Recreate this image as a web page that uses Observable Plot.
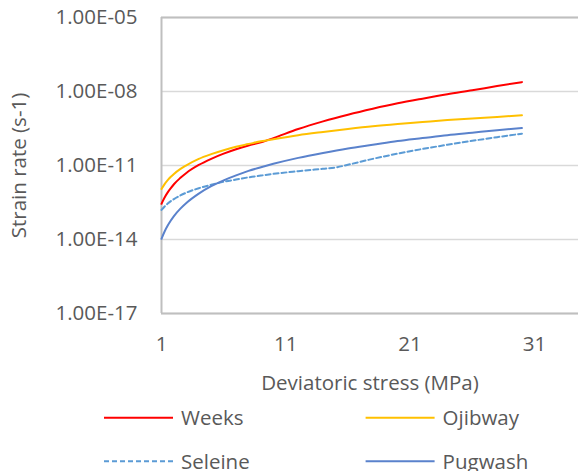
<!DOCTYPE html>
<html><head><meta charset="utf-8">
<script src="https://cdn.jsdelivr.net/npm/d3@7"></script>
<script src="https://cdn.jsdelivr.net/npm/@observablehq/plot@0.6"></script>
<style>
body{margin:0;background:#fff;}
#chart{width:579px;position:relative;}
</style></head><body><div id="chart"></div>
<script>
// Deviatoric stress (MPa)
const stress = [1,1.25,1.5,1.75,2,2.5,3,4,5,6,7,8,9,10,12,14,16,18,20,22,24,26,28,30];
const seleineStress = [1,1.25,1.5,1.75,2,2.5,3,4,5,6,7,8,9,10,12,14,15,16,18,20,22,24,26,28,30];
// Strain rate (s-1)
const weeks = [2.8e-13,5.05e-13,8.13e-13,1.21e-12,1.74e-12,3.09e-12,5.0e-12,1.05e-11,1.86e-11,3.02e-11,4.57e-11,6.46e-11,8.71e-11,1.29e-10,3.02e-10,6.17e-10,1.15e-9,2.0e-9,3.31e-9,5.13e-9,7.76e-9,1.12e-8,1.66e-8,2.40e-8];
const ojibway = [1.12e-12,1.76e-12,2.55e-12,3.48e-12,4.57e-12,7.14e-12,1.02e-11,1.86e-11,2.88e-11,4.17e-11,5.75e-11,7.41e-11,9.55e-11,1.17e-10,1.70e-10,2.29e-10,3.02e-10,3.89e-10,4.79e-10,5.75e-10,6.92e-10,8.13e-10,9.33e-10,1.10e-9];
const seleine = [1.58e-13,2.19e-13,2.86e-13,3.59e-13,4.37e-13,6.04e-13,7.94e-13,1.20e-12,1.66e-12,2.19e-12,2.69e-12,3.31e-12,3.89e-12,4.57e-12,5.89e-12,7.41e-12,8.32e-12,1.07e-11,1.86e-11,3.02e-11,4.68e-11,6.92e-11,1.0e-10,1.41e-10,1.95e-10];
const pugwash = [1.07e-14,2.11e-14,3.67e-14,5.87e-14,8.91e-14,1.74e-13,3.02e-13,7.24e-13,1.45e-12,2.51e-12,3.98e-12,6.03e-12,8.51e-12,1.17e-11,2.04e-11,3.24e-11,4.90e-11,6.92e-11,9.77e-11,1.29e-10,1.70e-10,2.14e-10,2.69e-10,3.31e-10];

const seriesNames = ["Weeks","Ojibway","Seleine","Pugwash"];
const seriesColors = ["#FF0000","#FFC000","#5B9BD5","#5A82CC"];
const seriesDash = [null,null,"5,3",null];

const xTicks = [1,11,21,31];
const yTicks = [1e-17,1e-14,1e-11,1e-8,1e-5];
const yTickLabels = ["1.00E-17","1.00E-14","1.00E-11","1.00E-08","1.00E-05"];

const rows = [];
const add = (name, xs, ys) => xs.forEach((x,i)=>rows.push({series:name, x, y:ys[i]}));
add("Weeks", stress, weeks);
add("Ojibway", stress, ojibway);
add("Seleine", seleineStress, seleine);
add("Pugwash", stress, pugwash);

const fontFamily = "'Open Sans', sans-serif";
const textColor = "#595959";

const plot = Plot.plot({
  width: 579,
  height: 400,
  marginLeft: 161,
  marginRight: 1,
  marginTop: 17,
  marginBottom: 87,
  style: {fontFamily, fontSize: "20.5px", color: textColor, background: "#fff"},
  x: {domain: [1, 34.55]},
  y: {type: "log", domain: [1e-17, 1e-5]},
  color: {domain: seriesNames, range: seriesColors},
  marks: [
    Plot.gridY(yTicks, {stroke: "#d9d9d9", strokeOpacity: 1, strokeWidth: 1.5}),
    Plot.ruleY([1e-17, 1e-5], {stroke: "#bfbfbf", strokeWidth: 2}),
    Plot.ruleX([1], {stroke: "#bfbfbf", strokeWidth: 2}),
    Plot.axisX({ticks: xTicks, tickSize: 0, tickPadding: 23, tickFormat: d => String(d),
      label: "Deviatoric stress (MPa)", labelAnchor: "center", labelArrow: "none", labelOffset: 76}),
    Plot.axisY({ticks: yTicks, tickSize: 0, tickPadding: 24,
      tickFormat: d => yTickLabels[yTicks.indexOf(d)],
      label: "Strain rate (s-1)", labelAnchor: "center", labelArrow: "none", labelOffset: 150}),
    ...seriesNames.map((name, k) => Plot.line(rows.filter(r => r.series === name), {
      x: "x", y: "y", stroke: seriesColors[k], strokeWidth: 2,
      strokeDasharray: seriesDash[k] || undefined, curve: "monotone-x"
    }))
  ]
});
document.getElementById("chart").appendChild(plot);

// Legend below the chart
const legendPos = [[104, 17.7],[365.6, 17.7],[104, 61.2],[365.6, 61.2]];
const leg = d3.select("#chart").append("svg")
  .attr("width", 579).attr("height", 71)
  .style("display","block")
  .style("font-family", fontFamily).style("font-size","20.5px");
seriesNames.forEach((name, k) => {
  const [lx, ly] = legendPos[k];
  leg.append("line").attr("x1", lx).attr("x2", lx + 69).attr("y1", ly).attr("y2", ly)
    .attr("stroke", seriesColors[k]).attr("stroke-width", 2)
    .attr("stroke-dasharray", seriesDash[k]);
  leg.append("text").attr("x", lx + 77).attr("y", ly + 7.5)
    .attr("fill", textColor).text(name);
});
</script>
</body></html>
